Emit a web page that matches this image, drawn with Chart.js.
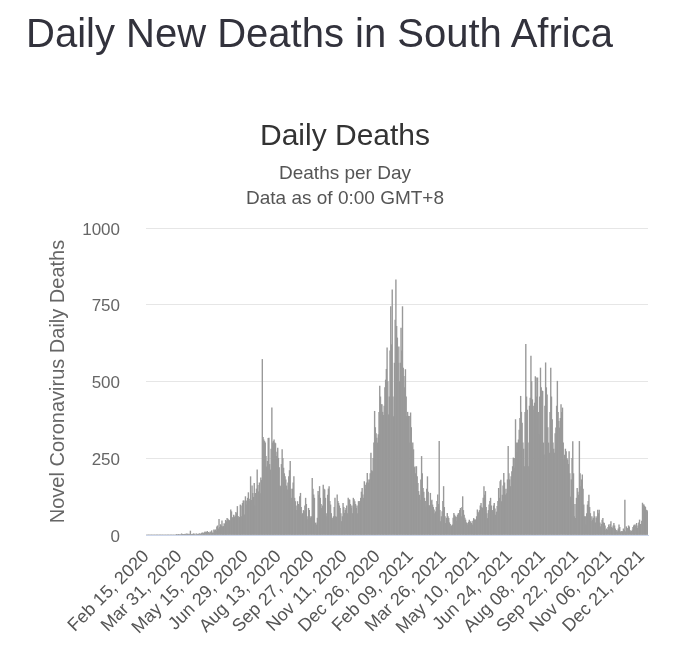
<!DOCTYPE html>
<html>
<head>
<meta charset="utf-8">
<script src="https://cdn.jsdelivr.net/npm/chart.js@4"></script>
<style>
  html, body { margin: 0; padding: 0; background: #ffffff; }
  body { width: 690px; height: 661px; position: relative; overflow: hidden; }
  #heading {
    position: absolute; left: 26px; top: 13px; margin: 0;
    font-family: "Liberation Sans", Arial, sans-serif; font-weight: normal;
    font-size: 40px; line-height: 40px; color: #32323c; white-space: nowrap; z-index: 2;
  }
  #wrap { position: absolute; left: 0; top: 0; width: 690px; height: 661px; }
</style>
</head>
<body>
<h1 id="heading">Daily New Deaths in South Africa</h1>
<div id="wrap"><canvas id="c" width="690" height="661"></canvas></div>
<script>
// ---- Data: daily new deaths, South Africa ----
const feb2020 = [0,0,0,0,0,0,0,0,0,0,0,0,0,0,0];
const mar2020 = [0,0,0,0,0,0,0,0,0,0, 0,0,0,0,0,0,0,0,0,0, 0,0,0,0,0,0,1,0,1,2, 0];
const apr2020 = [2,0,4,2,2,2,2,3,1,4, 3,1,3,2,13,2,1,2,4,3, 3,0,4,3,2,1,5,3,3,5];
const may2020 = [7,6,5,8,10,8,9,12,8,9, 5,10,8,14,7,6,17,14,17,12, 27,30,20,51,25,34,30,46,27,28, 37];
const jun2020 = [35,48,44,54,52,49,47,47,82,76, 57,56,65,58,62,74,70,93,61,56, 58,98,95,60,103,111,111,66,125,111];
const jul2020 = [98,120,138,110,117,190,113,160,136,123, 168,96,136,150,212,162,141,170,135,186, 178,572,318,310,305,300,256,222,240,315, 316];
const aug2020 = [230,212,280,414,300,305,310,300,298,256, 270,283,250,220,160,158,230,278,250,218, 200,190,180,160,147,170,190,210,240,150, 120];
const sep2020 = [150,170,190,120,109,95,80,109,100,98, 125,136,90,65,70,80,76,95,120,100, 60,50,87,80,60,55,60,185,150,131];
const oct2020 = [120,38,40,33,55,142,130,158,120,100, 87,95,163,150,147,120,70,60,130,150, 158,110,98,70,49,55,60,90,120,60, 58];
const nov2020 = [131,110,103,95,87,70,44,60,103,90, 71,80,87,95,70,120,115,114,100,87, 95,70,120,115,109,100,87,95,70,109];
const dec2020 = [110,103,120,140,152,131,120,174,150,163, 170,201,180,170,180,200,267,210,207,250, 300,403,350,330,316,300,327,400,485,450, 425];
const jan2021 = [425,400,390,420,480,505,540,610,500,392, 450,600,744,620,799,450,386,560,700,831, 680,642,560,613,500,560,674,600,744,544, 517];
const feb2021 = [480,539,450,387,400,387,300,387,398,350, 287,300,278,220,222,200,223,190,168,142, 130,114,180,256,200,152,140,120];
const mar2021 = [110,92,150,190,140,97,95,136,110,114, 98,90,82,70,76,90,110,131,100,305, 80,44,60,76,110,158,90,60,38,55, 71];
const apr2021 = [60,54,40,35,27,30,33,55,71,65, 60,45,58,65,70,71,80,87,60,90, 125,80,65,55,49,40,38,33,42,49];
const may2021 = [40,44,38,33,45,54,50,48,50,60, 82,75,70,80,95,103,90,87,120,158, 130,142,90,70,54,80,98,110,120,95, 76];
const jun2021 = [80,95,103,85,65,75,93,110,152,120, 174,179,109,130,160,201,170,131,150,135, 180,289,200,180,158,190,207,223,251,218];
const jul2021 = [250,376,300,270,300,310,342,380,452,400, 365,300,280,223,400,621,450,407,300,223, 420,446,583,500,441,420,407,430,516,512, 450];
const aug2021 = [512,400,327,450,544,480,470,468,300,261, 420,561,480,457,350,300,267,400,544,450, 376,300,280,267,330,349,420,501,400,370, 349];
const sep2021 = [380,425,400,414,300,245,260,280,272,250, 245,230,272,200,124,180,250,304,200,60, 100,54,120,152,140,130,305,200,158,180];
const oct2021 = [196,150,98,60,60,33,70,98,110,130, 90,70,44,60,49,55,76,60,40,55, 60,81,70,81,40,27,35,49,54,40, 38];
const nov2021 = [30,16,20,16,25,33,27,35,44,25, 22,30,38,30,20,11,15,11,20,33, 25,10,11,12,11,20,15,114,11,27];
const dec2021 = [20,22,30,27,15,11,12,16,25,30, 33,28,33,38,22,30,40,49,35,33, 45,104,98,98,93,90,81,80,76];

const dailyDeaths = [].concat(
  feb2020, mar2020, apr2020, may2020, jun2020, jul2020, aug2020, sep2020, oct2020, nov2020, dec2020,
  jan2021, feb2021, mar2021, apr2021, may2021, jun2021, jul2021, aug2021, sep2021, oct2021, nov2021, dec2021
);

// Categories: one per day starting Feb 15, 2020
const firstDate = Date.UTC(2020, 1, 15);
const monthNames = ['Jan','Feb','Mar','Apr','May','Jun','Jul','Aug','Sep','Oct','Nov','Dec'];
function fmtDate(t) {
  const d = new Date(t);
  return monthNames[d.getUTCMonth()] + ' ' + String(d.getUTCDate()).padStart(2, '0') + ', ' + d.getUTCFullYear();
}
const categories = dailyDeaths.map((_, i) => fmtDate(firstDate + i * 86400000));

// Tick labels shown on the x axis
const tickLabels = ['Feb 15, 2020','Mar 31, 2020','May 15, 2020','Jun 29, 2020','Aug 13, 2020','Sep 27, 2020',
  'Nov 11, 2020','Dec 26, 2020','Feb 09, 2021','Mar 26, 2021','May 10, 2021','Jun 24, 2021',
  'Aug 08, 2021','Sep 22, 2021','Nov 06, 2021','Dec 21, 2021'];
const yTicks = [0, 250, 500, 750, 1000];

const FONT = '"Liberation Sans", Arial, Helvetica, sans-serif';

new Chart(document.getElementById('c'), {
  type: 'bar',
  data: {
    labels: categories,
    datasets: [{
      label: 'Daily Deaths',
      data: dailyDeaths,
      backgroundColor: '#999999',
      borderWidth: 0,
      barPercentage: 1.0,
      categoryPercentage: 1.0
    }]
  },
  options: {
    responsive: false,
    animation: false,
    events: [],
    layout: { padding: { left: 42, right: 42, top: 0, bottom: 0 } },
    plugins: {
      legend: { display: false },
      tooltip: { enabled: false },
      title: {
        display: true,
        text: 'Daily Deaths',
        color: '#333333',
        font: { family: FONT, size: 30, weight: 'normal', lineHeight: 1.2 },
        padding: { top: 118.3, bottom: 0 }
      },
      subtitle: {
        display: true,
        text: ['Deaths per Day', 'Data as of 0:00 GMT+8'],
        color: '#555555',
        font: { family: FONT, size: 19, weight: 'normal', lineHeight: 1.28 },
        padding: { top: 7.6, bottom: 17.5 }
      }
    },
    scales: {
      x: {
        type: 'category',
        grid: { display: false, drawTicks: false },
        border: { display: true, color: '#ccd6eb', width: 1 },
        ticks: {
          autoSkip: false,
          minRotation: 45,
          maxRotation: 45,
          padding: 11,
          color: '#555555',
          font: { family: FONT, size: 18 },
          callback: function (value) {
            const lab = this.getLabelForValue(value);
            return tickLabels.includes(lab) ? lab : '';
          }
        },
        afterFit: function (scale) { scale.height = 126; }
      },
      y: {
        min: yTicks[0],
        max: yTicks[yTicks.length - 1],
        afterBuildTicks: function (scale) { scale.ticks = yTicks.map(v => ({ value: v })); },
        grid: { color: '#e6e6e6', drawTicks: false, lineWidth: 1 },
        border: { display: false },
        ticks: {
          padding: 26,
          labelOffset: 2,
          color: '#666666',
          font: { family: FONT, size: 17 },
          callback: function (value) { return String(value); }
        },
        title: {
          display: true,
          text: 'Novel Coronavirus Daily Deaths',
          color: '#666666',
          font: { family: FONT, size: 20, weight: 'normal', lineHeight: 1.2 },
          padding: { top: 4, bottom: 0 }
        },
        afterFit: function (scale) { scale.width = 104; }
      }
    }
  }
});
</script>
</body>
</html>
